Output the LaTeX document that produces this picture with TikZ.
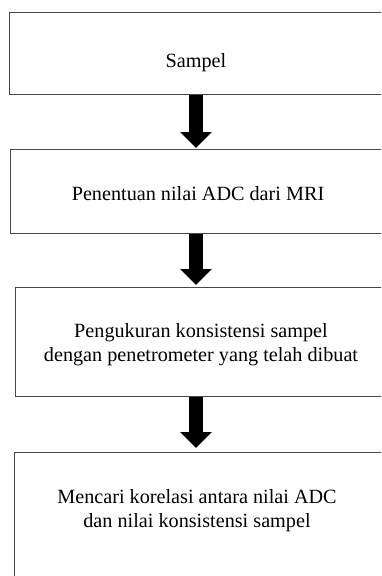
\documentclass[tikz,border=0pt]{standalone}
\usepackage{fontspec}
\setmainfont{Liberation Serif}
\usetikzlibrary{arrows.meta}
\tikzset{
  stepbox/.style={draw=black!72, line width=1.4pt, rectangle, inner sep=0pt, anchor=north west},
  steptext/.style={font=\fontsize{20.2}{24}\selectfont, align=center, inner sep=0pt},
  blockarrow/.style={line width=14pt, -{Triangle[width=31pt,length=16pt]}}
}
\begin{document}
\begin{tikzpicture}[x=1pt,y=-1pt]
\useasboundingbox (0,0) rectangle (381,576);
\clip (0,0) rectangle (381,576);
\coordinate (ax) at (196,0);
\node[stepbox, minimum width=440pt, minimum height=82pt] (b1) at (9,12) {};
\node[stepbox, minimum width=440pt, minimum height=84pt] (b2) at (10,149) {};
\node[stepbox, minimum width=440pt, minimum height=109pt] (b3) at (15,287) {};
\node[stepbox, minimum width=440pt, minimum height=160pt] (b4) at (14,452) {};
\node[steptext, anchor=base] (t1) at (196,67) {Sampel};
\node[steptext, anchor=base] (t2) at (198,200) {Penentuan nilai ADC dari MRI};
\node[steptext] (t3) at (201,345) {Pengukuran konsistensi sampel\\dengan penetrometer yang telah dibuat};
\node[steptext] (t4) at (197,511) {Mencari korelasi antara nilai ADC\\dan nilai konsistensi sampel};
\draw[blockarrow] (b1.south -| ax) -- ([yshift=1pt]b2.north -| ax);
\draw[blockarrow] (b2.south -| ax) -- ([yshift=2pt]b3.north -| ax);
\draw[blockarrow] (b3.south -| ax) -- ([yshift=4pt]b4.north -| ax);
\end{tikzpicture}
\end{document}
